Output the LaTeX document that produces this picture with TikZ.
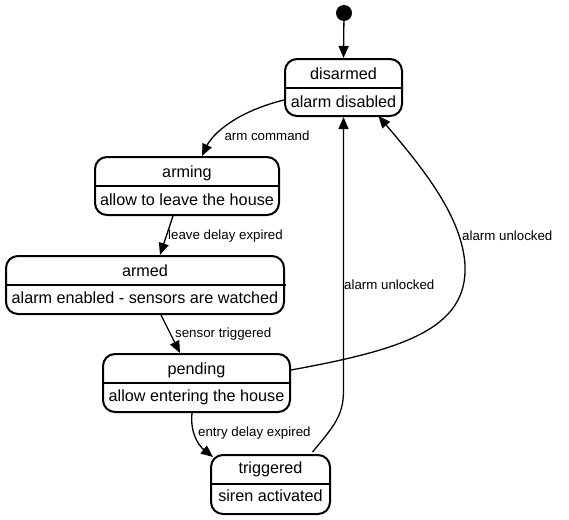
\documentclass[tikz,border=0pt]{standalone}
\usepackage{fontspec}
\setmainfont{Liberation Sans}
\usetikzlibrary{arrows.meta,calc}
\begin{document}
\begin{tikzpicture}[x=1pt,y=-1pt,
 state/.style={draw, line width=2pt, rounded corners=12pt, inner sep=0pt},
 divider/.style={line width=1.2pt},
 ttl/.style={inner sep=0pt, font=\fontsize{16.2}{19}\selectfont},
 elabel/.style={inner sep=0pt, font=\fontsize{13.3}{15}\selectfont},
 edge/.style={line width=1.3pt, -{Triangle[length=12pt,width=10pt]}},
 ]
\useasboundingbox (0,0) rectangle (569,519);
% initial
\node[circle, fill, inner sep=0pt, minimum size=16pt] (init) at (344,13) {};
% states
\node[state, minimum width=117pt, minimum height=57pt] (dis) at (343.5,87.5) {};
\draw[divider] (dis.west |- 0,88) -- (dis.east |- 0,88);
\node[ttl] (disT) at (343.5,74) {disarmed};
\node[ttl] (disB) at (343.5,102) {alarm disabled};

\node[state, minimum width=184pt, minimum height=58pt] (arming) at (187,186) {};
\draw[divider] (arming.west |- 0,186) -- (arming.east |- 0,186);
\node[ttl] (armingT) at (187,173) {arming};
\node[ttl] (armingB) at (187,200) {allow to leave the house};

\node[state, minimum width=278pt, minimum height=58pt] (armed) at (145,285) {};
\draw[divider] (armed.west |- 0,285) -- ([xshift=1pt]armed.east |- 0,285);
\node[ttl] (armedT) at (145,271) {armed};
\node[ttl] (armedB) at (145,298) {alarm enabled - sensors are watched};

\node[state, minimum width=187pt, minimum height=58pt] (pending) at (196.5,383) {};
\draw[divider] (pending.west |- 0,383) -- (pending.east |- 0,383);
\node[ttl] (pendingT) at (196.5,370) {pending};
\node[ttl] (pendingB) at (196.5,397) {allow entering the house};

\node[state, minimum width=119pt, minimum height=59pt] (trig) at (270.5,484.5) {};
\draw[divider] (trig.west |- 0,484) -- (trig.east |- 0,484);
\node[ttl] (trigT) at (270.5,469) {triggered};
\node[ttl] (trigB) at (270.5,496) {siren activated};

% edges
\draw[edge] (init) -- (dis.north);
\draw[edge] ([yshift=-12.5pt]dis.west) .. controls (235,112) and (212,135) .. ([xshift=15pt]arming.north);
\node[elabel] (l1) at (267,136) {arm command};
\draw[edge] ([xshift=-14pt]arming.south) -- ([xshift=15pt]armed.north);
\node[elabel, anchor=west] (l2) at (168,236) {leave delay expired};
\draw[edge] ([xshift=16pt]armed.south) -- ([xshift=-16.5pt]pending.north);
\node[elabel, anchor=west] (l3) at (175,334) {sensor triggered};
\draw[edge] ([xshift=-4.5pt]pending.south) .. controls (190,432) and (198,445) .. ([xshift=3pt,yshift=-3pt]trig.north west);
\node[elabel, anchor=west] (l4) at (198,433) {entry delay expired};
\draw[edge] ([xshift=42pt,yshift=2pt]trig.north) .. controls (335,425) and (343.5,415) .. (dis.south |- 0,390) -- (dis.south);
\node[elabel, anchor=west] (l5) at (344,285) {alarm unlocked};
\draw[edge] ([yshift=13pt]pending.east) .. controls (400,350) and (468,330) .. (465,265) .. controls (462,215) and (420,165) .. ([xshift=35pt,yshift=1pt]dis.south);
\node[elabel, anchor=west] (l6) at (462,236) {alarm unlocked};
\end{tikzpicture}
\end{document}
